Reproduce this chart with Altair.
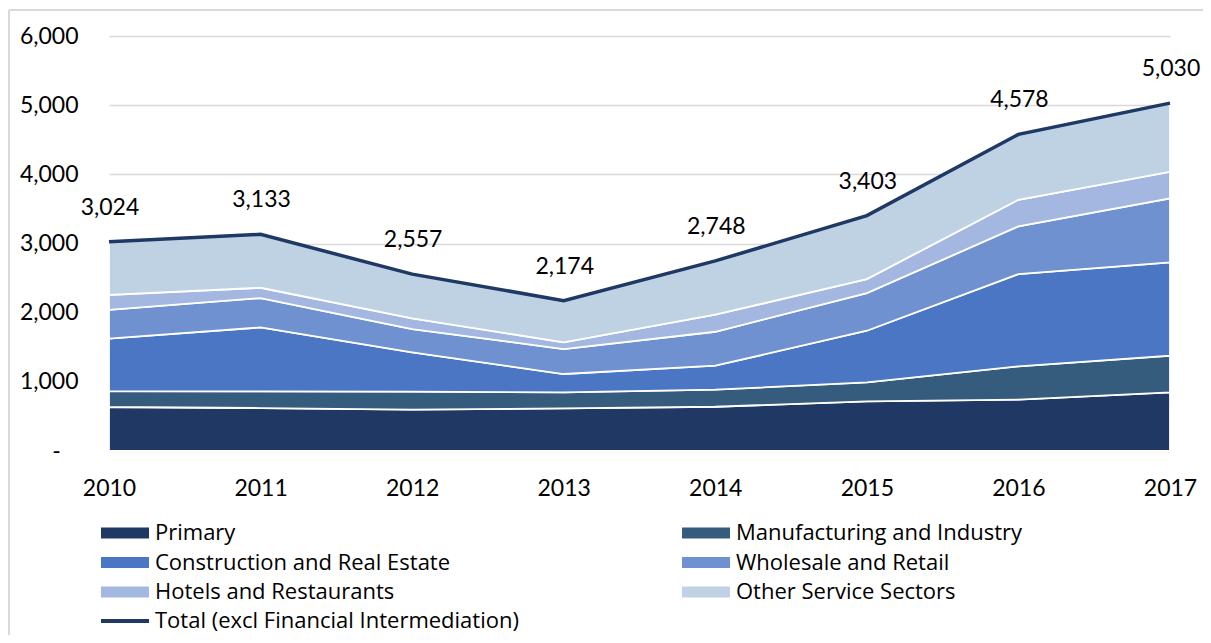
import altair as alt
import pandas as pd

years = [2010, 2011, 2012, 2013, 2014, 2015, 2016, 2017]
primary = [636, 621, 597, 617, 640, 718, 742, 848]
manufacturing = [231, 242, 260, 231, 246, 275, 482, 529]
construction = [758, 924, 569, 265, 347, 746, 1334, 1350]
wholesale = [415, 424, 337, 361, 491, 544, 689, 925]
hotels = [216, 149, 155, 97, 246, 203, 385, 384]
other = [768, 773, 639, 603, 778, 917, 946, 994]
total = [3024, 3133, 2557, 2174, 2748, 3403, 4578, 5030]

sectors = ["Primary", "Manufacturing and Industry", "Construction and Real Estate",
           "Wholesale and Retail", "Hotels and Restaurants", "Other Service Sectors"]
sector_colors = ["#203864", "#355C7D", "#4A76C3", "#7091D0", "#A4B7E1", "#BFD2E4"]
total_name = "Total (excl Financial Intermediation)"
total_color = "#1F3864"
y_ticks = [0, 1000, 2000, 3000, 4000, 5000, 6000]

# legend is filled column by column (3 rows x 2 columns): reorder so rows read
# Primary | Manufacturing, Construction | Wholesale, Hotels | Other
legend_order = [0, 2, 4, 1, 3, 5]
legend_domain = [sectors[i] for i in legend_order]
legend_range = [sector_colors[i] for i in legend_order]

series_values = [primary, manufacturing, construction, wholesale, hotels, other]
rows = []
for i, (name, vals) in enumerate(zip(sectors, series_values)):
    for y, v in zip(years, vals):
        rows.append({"year": y, "series": name, "value": v, "idx": i})
area_df = pd.DataFrame(rows)
total_df = pd.DataFrame({"year": years, "value": total, "series": [total_name] * len(years)})

FONT = "Lato"
LFONT = "Open Sans"
RECT = "M-1,-1.1L8.6,-1.1L8.6,1.1L-1,1.1Z"
LINE = "M-1,0L8.6,0"

x_enc = alt.X("year:O", scale=alt.Scale(type="point", padding=0),
              axis=alt.Axis(title=None, labelAngle=0, labelFont=FONT, labelFontSize=23,
                            labelColor="#000000", labelPadding=26, ticks=False, tickSize=0,
                            domain=False, grid=False))
y_enc = alt.Y("value:Q", stack="zero",
              scale=alt.Scale(domain=[0, 6000], nice=False),
              axis=alt.Axis(title=None, values=y_ticks,
                            labelExpr="datum.value == 0 ? '-\u00a0\u00a0\u00a0\u200b' : format(datum.value, ',')",
                            labelFont=FONT, labelFontSize=23, labelColor="#000000",
                            labelPadding=31, ticks=False, tickSize=0, domain=False,
                            grid=True, gridColor="#D9D9D9", gridWidth=1.5))

color_enc = alt.Color(
    "series:N",
    scale=alt.Scale(domain=legend_domain, range=legend_range),
    legend=alt.Legend(
        title=None, orient="none", legendX=-14, legendY=486, columns=2,
        columnPadding=225, rowPadding=7.5, padding=0, offset=0,
        symbolType=RECT, symbolSize=100, symbolStrokeWidth=0, symbolOpacity=1,
        labelOffset=38, labelFont=LFONT, labelFontSize=22, labelColor="#000000",
        labelLimit=0,
    ),
)

area = alt.Chart(area_df).mark_area(stroke="white", strokeWidth=1.8, opacity=1).encode(
    x=x_enc, y=y_enc, color=color_enc, order=alt.Order("idx:Q", sort="ascending")
)

line = alt.Chart(total_df).mark_line(strokeWidth=3.5).encode(
    x="year:O", y="value:Q",
    stroke=alt.Stroke(
        "series:N",
        scale=alt.Scale(domain=[total_name], range=[total_color]),
        legend=alt.Legend(
            title=None, orient="none", legendX=-14, legendY=574, padding=0, offset=0,
            symbolType=LINE, symbolSize=100, symbolStrokeWidth=4, symbolOpacity=1,
            labelOffset=38, labelFont=LFONT, labelFontSize=22, labelColor="#000000",
            labelLimit=0,
        ),
    ),
)

labels = alt.Chart(total_df).mark_text(dy=-34, dx=1, font=FONT, fontSize=23, color="#000000",
                                       baseline="middle").encode(
    x="year:O", y="value:Q", text=alt.Text("value:Q", format=",")
)

border_df = pd.DataFrame({"a": [0]})
left_border = alt.Chart(border_df).mark_rule(color="#D9D9D9", strokeWidth=2).encode(
    x=alt.value(-100), y=alt.value(-26), y2=alt.value(600)
)
top_border = alt.Chart(border_df).mark_rule(color="#D9D9D9", strokeWidth=2).encode(
    x=alt.value(-100), x2=alt.value(1100), y=alt.value(-26)
)

chart = alt.layer(area, line, labels, left_border, top_border).resolve_scale(
    color="independent", stroke="independent"
).properties(
    width=1061, height=415, autosize="none",
    padding={"left": 101, "top": 28, "right": 33, "bottom": 184},
).configure_view(stroke=None)

chart.save("out.html", embed_options={"renderer": "svg", "actions": False})
